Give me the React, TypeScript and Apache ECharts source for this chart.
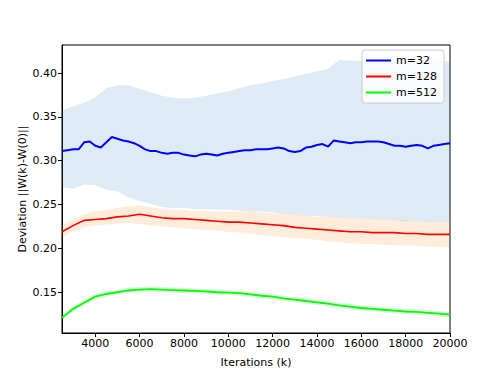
import React, { useEffect, useRef } from "react";
import * as echarts from "echarts";

const xTicks = [4000, 6000, 8000, 10000, 12000, 14000, 16000, 18000, 20000];
const yTicks = [0.15, 0.2, 0.25, 0.3, 0.35, 0.4];

const iters = [
  2500, 3000, 3500, 4000, 4500, 5000, 5500, 6000, 6500, 7000, 7500, 8000,
  8500, 9000, 9500, 10000, 10500, 11000, 11500, 12000, 12500, 13000, 13500, 14000,
  14500, 15000, 15500, 16000, 16500, 17000, 17500, 18000, 18500, 19000, 19500, 20000,
];

const itersFine = [
  2500, 2750, 3000, 3250, 3500, 3750, 4000, 4250, 4500, 4750, 5000, 5250,
  5500, 5750, 6000, 6250, 6500, 6750, 7000, 7250, 7500, 7750, 8000, 8250,
  8500, 8750, 9000, 9250, 9500, 9750, 10000, 10250, 10500, 10750, 11000, 11250,
  11500, 11750, 12000, 12250, 12500, 12750, 13000, 13250, 13500, 13750, 14000, 14250,
  14500, 14750, 15000, 15250, 15500, 15750, 16000, 16250, 16500, 16750, 17000, 17250,
  17500, 17750, 18000, 18250, 18500, 18750, 19000, 19250, 19500, 19750, 20000,
];

const m32 = [
  0.311, 0.312, 0.313, 0.313, 0.321, 0.322, 0.317, 0.315, 0.321, 0.327, 0.325, 0.323,
  0.322, 0.32, 0.317, 0.313, 0.311, 0.311, 0.309, 0.308, 0.309, 0.309, 0.307, 0.306,
  0.305, 0.307, 0.308, 0.307, 0.306, 0.308, 0.309, 0.31, 0.311, 0.312, 0.312, 0.313,
  0.313, 0.313, 0.314, 0.315, 0.314, 0.311, 0.31, 0.311, 0.315, 0.316, 0.318, 0.319,
  0.316, 0.323, 0.322, 0.321, 0.32, 0.321, 0.321, 0.322, 0.322, 0.322, 0.321, 0.319,
  0.317, 0.317, 0.316, 0.317, 0.318, 0.317, 0.314, 0.317, 0.318, 0.319, 0.32,
];
const m32Upper = [
  0.357, 0.362, 0.366, 0.372, 0.383, 0.386, 0.386, 0.382, 0.378, 0.374, 0.372, 0.371,
  0.372, 0.374, 0.377, 0.379, 0.383, 0.386, 0.388, 0.391, 0.393, 0.396, 0.399, 0.402,
  0.405, 0.415, 0.414, 0.414, 0.414, 0.415, 0.415, 0.413, 0.414, 0.415, 0.415, 0.413,
];
const m32Lower = [
  0.27, 0.268, 0.273, 0.272, 0.267, 0.265, 0.258, 0.254, 0.251, 0.247, 0.246, 0.246,
  0.245, 0.245, 0.244, 0.244, 0.243, 0.242, 0.242, 0.241, 0.239, 0.238, 0.237, 0.237,
  0.236, 0.235, 0.234, 0.234, 0.233, 0.233, 0.232, 0.231, 0.231, 0.23, 0.23, 0.23,
];

const m128 = [
  0.219, 0.226, 0.232, 0.233, 0.234, 0.236, 0.237, 0.239, 0.237, 0.235, 0.234, 0.234,
  0.233, 0.232, 0.231, 0.23, 0.23, 0.229, 0.228, 0.227, 0.226, 0.224, 0.223, 0.222,
  0.221, 0.22, 0.219, 0.219, 0.218, 0.218, 0.218, 0.217, 0.217, 0.216, 0.216, 0.216,
];
const m128Upper = [
  0.226, 0.233, 0.239, 0.242, 0.244, 0.246, 0.248, 0.249, 0.247, 0.245, 0.244, 0.244,
  0.243, 0.243, 0.242, 0.242, 0.242, 0.242, 0.241, 0.24, 0.239, 0.238, 0.237, 0.236,
  0.236, 0.235, 0.234, 0.234, 0.233, 0.233, 0.232, 0.232, 0.231, 0.231, 0.23, 0.23,
];
const m128Lower = [
  0.213, 0.219, 0.224, 0.226, 0.227, 0.228, 0.229, 0.228, 0.226, 0.225, 0.224, 0.223,
  0.222, 0.221, 0.22, 0.219, 0.218, 0.217, 0.215, 0.214, 0.213, 0.212, 0.211, 0.21,
  0.208, 0.207, 0.206, 0.205, 0.205, 0.204, 0.204, 0.203, 0.203, 0.202, 0.202, 0.201,
];

const m512 = [
  0.121, 0.131, 0.138, 0.145, 0.148, 0.15, 0.152, 0.153, 0.1535, 0.153, 0.1525, 0.152,
  0.1515, 0.151, 0.15, 0.1495, 0.149, 0.1475, 0.146, 0.145, 0.143, 0.1415, 0.14, 0.1385,
  0.137, 0.135, 0.1335, 0.132, 0.131, 0.13, 0.129, 0.128, 0.1275, 0.1265, 0.1255, 0.1245,
];
const m512Upper = [
  0.124, 0.134, 0.141, 0.148, 0.151, 0.153, 0.155, 0.156, 0.1565, 0.156, 0.1555, 0.155,
  0.1545, 0.154, 0.153, 0.1525, 0.152, 0.1505, 0.149, 0.148, 0.146, 0.1445, 0.143, 0.1415,
  0.14, 0.138, 0.1365, 0.135, 0.134, 0.133, 0.132, 0.131, 0.1305, 0.1295, 0.1285, 0.1275,
];
const m512Lower = [
  0.118, 0.128, 0.135, 0.142, 0.145, 0.147, 0.149, 0.15, 0.1505, 0.15, 0.1495, 0.149,
  0.1485, 0.148, 0.147, 0.1465, 0.146, 0.1445, 0.143, 0.142, 0.14, 0.1385, 0.137, 0.1355,
  0.134, 0.132, 0.1305, 0.129, 0.128, 0.127, 0.126, 0.125, 0.1245, 0.1235, 0.1225, 0.1215,
];

const FONT = "DejaVu Sans";

function band(name: string, xs: number[], up: number[], lo: number[], fill: string) {
  return {
    name,
    type: "custom",
    silent: true,
    clip: true,
    data: [[xs[0], up[0]]],
    renderItem: (_p: any, api: any) => {
      const pts: number[][] = [];
      for (let i = 0; i < xs.length; i++) pts.push(api.coord([xs[i], up[i]]));
      for (let i = xs.length - 1; i >= 0; i--) pts.push(api.coord([xs[i], lo[i]]));
      return { type: "polygon", shape: { points: pts }, style: { fill } };
    },
  };
}

function line(name: string, xs: number[], ys: number[], color: string, width: number) {
  return {
    name,
    type: "line",
    data: xs.map((x, i) => [x, ys[i]]),
    showSymbol: false,
    symbol: "none",
    lineStyle: { color, width },
    itemStyle: { color },
    silent: true,
  };
}

export default function App() {
  const ref = useRef<HTMLDivElement>(null);
  useEffect(() => {
    if (!ref.current) return;
    const chart = echarts.init(ref.current, undefined, { renderer: "svg" });
    chart.setOption({
      animation: false,
      backgroundColor: "#fff",
      grid: {
        left: 62,
        right: 50,
        top: 45,
        bottom: 42,
        show: true,
        borderColor: "#000",
        borderWidth: 1,
        backgroundColor: "transparent",
      },
      legend: {
        data: ["m=32", "m=128", "m=512"],
        orient: "vertical",
        right: 56,
        top: 50,
        icon: "rect",
        itemWidth: 25,
        itemHeight: 2,
        itemGap: 3,
        padding: [4, 7, 4, 4],
        backgroundColor: "rgba(255,255,255,0.8)",
        borderColor: "#ccc",
        borderWidth: 1,
        borderRadius: 3,
        textStyle: { fontFamily: FONT, fontSize: 11, color: "#000", lineHeight: 13 },
      },
      xAxis: {
        type: "value",
        min: 2500,
        max: 20000,
        splitLine: { show: false },
        axisLine: { show: true, lineStyle: { color: "#000" } },
        axisTick: { show: true, inside: false, length: 4, lineStyle: { color: "#000" }, customValues: xTicks },
        axisLabel: {
          customValues: xTicks,
          color: "#000",
          fontFamily: FONT,
          fontSize: 11,
          margin: 5,
          formatter: (v: number) => String(v),
        },
        name: "Iterations (k)",
        nameLocation: "middle",
        nameGap: 24,
        nameMoveOverlap: false,
        nameTextStyle: { fontFamily: FONT, fontSize: 11, color: "#000" },
      },
      yAxis: {
        type: "value",
        min: 0.1035,
        max: 0.432,
        splitLine: { show: false },
        axisLine: { show: true, lineStyle: { color: "#000" } },
        axisTick: { show: true, inside: false, length: 4, lineStyle: { color: "#000" }, customValues: yTicks },
        axisLabel: {
          customValues: yTicks,
          color: "#000",
          fontFamily: FONT,
          fontSize: 11,
          margin: 5,
          formatter: (v: number) => v.toFixed(2),
        },
        name: "Deviation ||W(k)-W(0)||",
        nameLocation: "middle",
        nameGap: 34,
        nameMoveOverlap: false,
        nameTextStyle: { fontFamily: FONT, fontSize: 11, color: "#000" },
      },
      series: [
        band("band32", iters, m32Upper, m32Lower, "rgba(31,119,180,0.15)"),
        line("m=32", itersFine, m32, "#0000ff", 2),
        band("band128", iters, m128Upper, m128Lower, "rgba(255,127,14,0.15)"),
        line("m=128", iters, m128, "#ff0000", 1.6),
        band("band512", iters, m512Upper, m512Lower, "rgba(44,160,44,0.15)"),
        line("m=512", iters, m512, "#00ff00", 1.8),
      ],
    });
    return () => chart.dispose();
  }, []);
  return <div ref={ref} style={{ width: 500, height: 375, position: "absolute", left: 0, top: 0 }} />;
}
